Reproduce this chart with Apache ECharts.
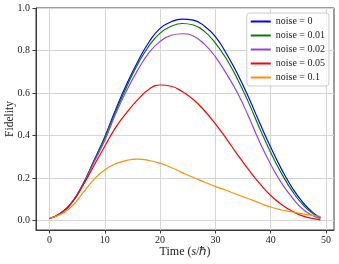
<!DOCTYPE html>
<html><head><meta charset="utf-8">
<script src="https://cdn.jsdelivr.net/npm/echarts@6/dist/echarts.min.js"></script>
<style>html,body{margin:0;padding:0;background:#fff}#c{width:339px;height:264px}</style>
</head><body><div id="c"></div>
<script>
const time = [0,2,4,6,8,10,12,14,16,18,20,22,24,26,28,30,32,34,36,38,40,42,44,46,48,49];
const noise0    = [0.01,0.035,0.085,0.17,0.28,0.395,0.525,0.645,0.75,0.84,0.904,0.935,0.948,0.943,0.915,0.865,0.785,0.69,0.58,0.46,0.345,0.24,0.15,0.08,0.03,0.015];
const noise001  = [0.01,0.035,0.085,0.168,0.278,0.39,0.515,0.632,0.738,0.822,0.882,0.914,0.927,0.92,0.89,0.835,0.76,0.665,0.555,0.435,0.32,0.22,0.135,0.07,0.027,0.015];
const noise002  = [0.01,0.035,0.084,0.165,0.272,0.378,0.505,0.615,0.71,0.79,0.843,0.872,0.879,0.868,0.83,0.77,0.69,0.60,0.49,0.37,0.265,0.175,0.105,0.05,0.018,0.01];
const noise005  = [0.01,0.035,0.083,0.163,0.257,0.35,0.44,0.51,0.57,0.618,0.638,0.632,0.607,0.57,0.518,0.455,0.385,0.31,0.24,0.175,0.118,0.075,0.043,0.02,0.008,0.004];
const noise01   = [0.01,0.03,0.066,0.129,0.193,0.239,0.268,0.284,0.289,0.283,0.27,0.25,0.226,0.203,0.182,0.16,0.142,0.122,0.103,0.083,0.064,0.05,0.04,0.031,0.023,0.02];
const seriesNames = ['noise = 0','noise = 0.01','noise = 0.02','noise = 0.05','noise = 0.1'];
const seriesColors = ['#0000ff','#008000','#9b40e0','#ff0000','#ff9000'];
const seriesValues = [noise0, noise001, noise002, noise005, noise01];
const xTicks = [0,10,20,30,40,50];
const yTicks = [0,0.2,0.4,0.6,0.8,1.0];

const font = 'Liberation Serif';
const chart = echarts.init(document.getElementById('c'), null, {renderer:'canvas'});
chart.setOption({
  animation:false,
  backgroundColor:'#fff',
  grid:{left:36,right:5,top:8,bottom:34,outerBoundsMode:'none',containLabel:false,show:true,borderColor:'#3a3a3a',borderWidth:1,backgroundColor:'transparent'},
  legend:{
    orient:'vertical',right:10,top:13,
    data:seriesNames,
    icon:'rect',itemWidth:20,itemHeight:2,itemGap:3,
    padding:[3,4,3,4],
    backgroundColor:'rgba(255,255,255,0.8)',borderColor:'#cccccc',borderWidth:1,borderRadius:3,
    textStyle:{fontFamily:font,fontSize:10,color:'#222',lineHeight:11}
  },
  xAxis:{
    type:'value',min:-2.45,max:51.45,
    name:'{r|Time (}{i|s}{r|/ℏ)}',nameLocation:'middle',nameGap:16,nameMoveOverlap:false,
    nameTextStyle:{rich:{r:{fontFamily:font,fontSize:12,color:'#222'},i:{fontFamily:font,fontSize:12,fontStyle:'italic',color:'#222'}}},
    axisLine:{show:true,onZero:false,lineStyle:{color:'#3a3a3a',width:1}},
    axisTick:{show:true,customValues:xTicks,length:3.5,inside:false,lineStyle:{color:'#3a3a3a'}},
    axisLabel:{customValues:xTicks,fontFamily:font,fontSize:10,color:'#222',margin:5},
    splitLine:{show:true,lineStyle:{color:'#d4d4d4',width:1}}
  },
  yAxis:{
    type:'value',min:-0.044,max:1.0,
    name:'Fidelity',nameLocation:'middle',nameGap:20,nameRotate:90,nameMoveOverlap:false,
    nameTextStyle:{fontFamily:font,fontSize:11.5,color:'#222'},
    axisLine:{show:true,onZero:false,lineStyle:{color:'#3a3a3a',width:1}},
    axisTick:{show:true,customValues:yTicks,length:3.5,inside:false,lineStyle:{color:'#3a3a3a'}},
    axisLabel:{customValues:yTicks,fontFamily:font,fontSize:10,color:'#222',margin:6,formatter:v=>v.toFixed(1)},
    splitLine:{show:true,lineStyle:{color:'#d4d4d4',width:1}}
  },
  series:seriesNames.map((n,i)=>({
    name:n,type:'line',showSymbol:false,smooth:0.5,
    data:time.map((t,j)=>[t,seriesValues[i][j]]),
    color:seriesColors[i],
    lineStyle:{color:seriesColors[i],width:1.2},
    emphasis:{disabled:true}
  }))
});
</script></body></html>
